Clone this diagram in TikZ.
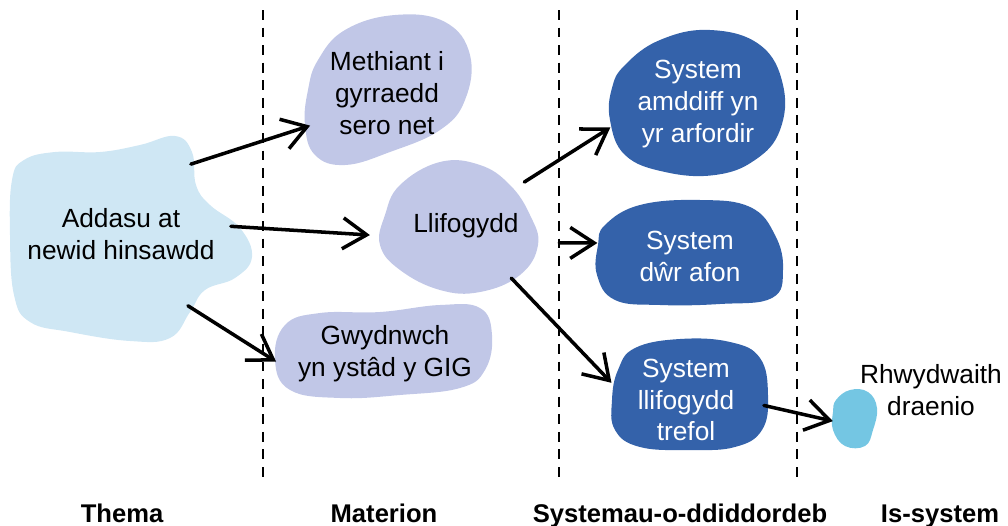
\documentclass[tikz,border=0pt]{standalone}
\usepackage{fontspec}
\setmainfont{Liberation Sans}
\usetikzlibrary{arrows.meta,shapes.geometric}
\definecolor{paleblue}{RGB}{207,231,244}
\definecolor{lavender}{RGB}{193,199,231}
\definecolor{darkblue}{RGB}{52,98,170}
\definecolor{skyblue}{RGB}{116,198,227}

\begin{document}
\begin{tikzpicture}[x=0.025cm,y=-0.025cm,
  area/.style={ellipse,inner sep=0pt},
  blobtext/.style={align=center,inner sep=0pt,font=\fontsize{18.7}{22.7}\selectfont},
  sysword/.style={blobtext,text=white},
  head/.style={anchor=base,inner sep=0pt,font=\bfseries\fontsize{18.2}{22}\selectfont},
  arr/.style={-{Straight Barb[length=17pt,width=22pt]},line width=2.5pt,line cap=round},
  divider/.style={line width=1.4pt,dash pattern=on 7pt off 5.5pt}]
\useasboundingbox (0,0) rectangle (1008,526);

% column dividers
\draw [divider] (263,10) -- (263,478);
\draw [divider] (559,10) -- (559,478);
\draw [divider] (797,10) -- (797,478);

% blobs
\fill [paleblue] plot [smooth cycle,tension=0.7] coordinates {(12,180) (24,160) (55,152) (100,152) (140,145) (175,136) (192,152) (196,185) (210,205) (240,228) (252,257) (235,278) (205,290) (190,312) (170,338) (130,341) (70,332) (30,322) (14,295) (10,235)};
\fill [lavender] plot [smooth cycle,tension=0.7] coordinates {(318,60) (345,30) (395,15) (445,22) (470,55) (465,100) (440,130) (390,152) (345,165) (315,155) (305,125) (308,90)};
\fill [lavender] plot [smooth cycle,tension=0.7] coordinates {(400,185) (440,162) (480,165) (510,185) (530,215) (538,245) (520,275) (480,292) (440,290) (400,270) (380,245) (385,215)};
\fill [lavender] plot [smooth cycle,tension=0.7] coordinates {(285,325) (320,313) (380,312) (440,305) (480,308) (492,335) (485,370) (460,388) (400,395) (340,398) (290,390) (275,360)};
\fill [darkblue] plot [smooth cycle,tension=0.7] coordinates {(625,65) (660,40) (710,30) (760,45) (783,85) (780,130) (755,160) (715,175) (665,172) (625,155) (610,120) (612,88)};
\fill [darkblue] plot [smooth cycle,tension=0.7] coordinates {(605,225) (640,205) (700,200) (750,207) (775,235) (783,270) (772,298) (720,304) (660,305) (615,300) (597,275) (598,245)};
\fill [darkblue] plot [smooth cycle,tension=0.7] coordinates {(618,370) (635,348) (680,339) (730,342) (760,358) (768,395) (762,430) (735,447) (690,450) (640,447) (615,430) (612,400)};
\fill [skyblue] plot [smooth cycle,tension=0.7] coordinates {(836,400) (850,390) (868,392) (877,408) (873,430) (865,446) (845,446) (833,430) (833,412)};

% areas the arrows attach to
\node [area,minimum width=5.5cm,minimum height=4.5cm] (addasu) at (121,234) {};
\node [area,minimum width=4.25cm,minimum height=3.75cm] (methiant) at (387,93) {};
\node [area,minimum width=4.1cm,minimum height=3.1cm] (llif) at (466,226) {};
\node [area,minimum width=5.5cm,minimum height=2.4cm] (gwyd) at (385,354) {};
\node [area,minimum width=4.6cm,minimum height=3.75cm] (amddiff) at (698,104) {};
\node [area,minimum width=4.75cm,minimum height=2.75cm] (dwr) at (690,256) {};
\node [area,minimum width=3.9cm,minimum height=2.8cm] (trefol) at (686,400) {};
\node [area,minimum width=1.1cm,minimum height=1.4cm] (drain) at (855,418) {};

% texts
\node [blobtext] (addasu-t) at (addasu) {Addasu at\\newid hinsawdd};
\node [blobtext] (methiant-t) at (methiant) {Methiant i\\gyrraedd\\sero net};
\node [blobtext] (llif-t) at (llif) {Llifogydd};
\node [blobtext] (gwyd-t) at (gwyd) {Gwydnwch\\yn ystâd y GIG};
\node [sysword] (amddiff-t) at (amddiff) {System\\amddiff yn\\yr arfordir};
\node [sysword] (dwr-t) at (dwr) {System\\dŵr afon};
\node [sysword] (trefol-t) at (trefol) {System\\llifogydd\\trefol};
\node [blobtext] (rhwyd) at (931,390) {Rhwydwaith\\draenio};

% column heads
\node [head] (thema) at (122,522) {Thema};
\node [head] (materion) at (384,522) {Materion};
\node [head] (systemau) at (680,522) {Systemau-o-ddiddordeb};
\node [head] (issystem) at (940,522) {Is-system};

% arrows
\draw [arr] (addasu.45) -- (methiant.203);
\draw [arr,shorten >=10.6pt] (addasu.4) -- (llif.187);
\draw [arr] (addasu.313) -- (gwyd.184);
\draw [arr] (llif.37) -- (amddiff.195);
\draw [arr,shorten <=10pt] (llif.348) -- (dwr.172);
\draw [arr] (llif.311) -- (trefol.167);
\draw [arr] (trefol.356) -- (drain.188);
\end{tikzpicture}
\end{document}
